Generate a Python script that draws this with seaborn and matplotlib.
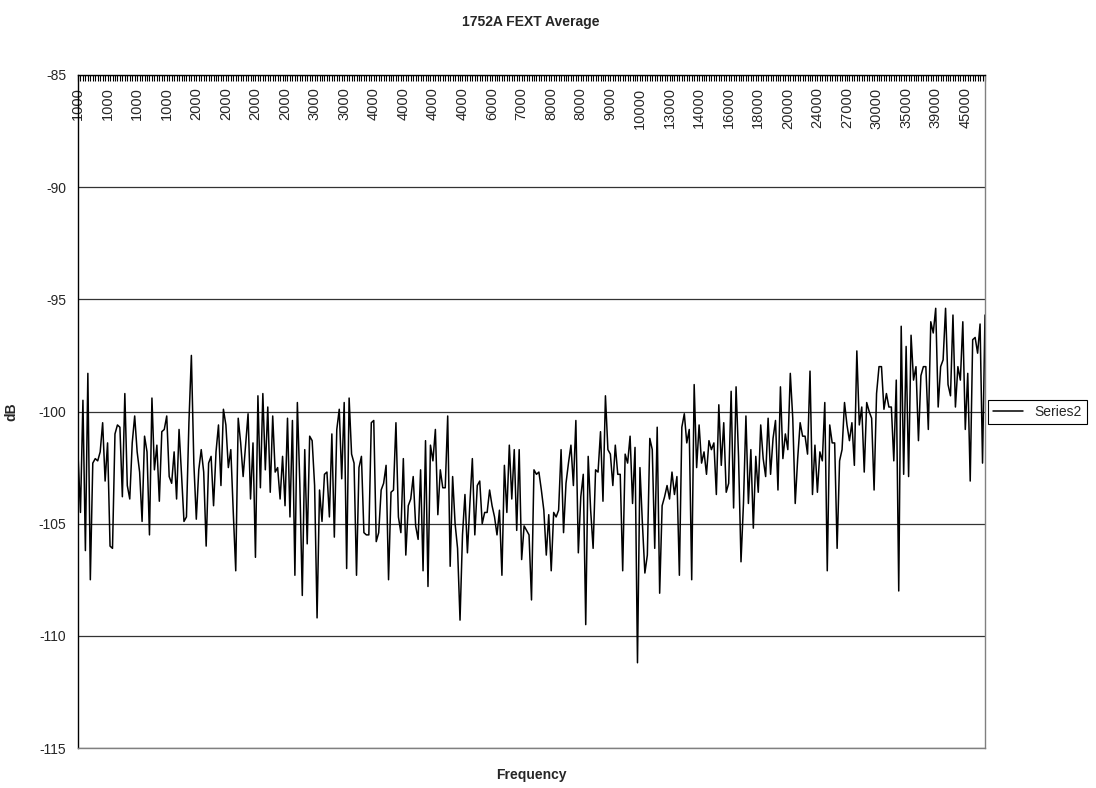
import pandas as pd
import matplotlib.pyplot as plt
import seaborn as sns

# Estilo base
sns.set_style("white")
plt.rcParams['font.family'] = ['Liberation Sans', 'DejaVu Sans']
plt.rcParams['axes.unicode_minus'] = False

# Rótulos de frequência mostrados no eixo (um a cada 12 pontos)
freq_labels = ['1000', '1000', '1000', '1000', '2000', '2000', '2000', '2000',
               '3000', '3000', '4000', '4000', '4000', '4000', '6000', '7000',
               '8000', '8000', '9000', '10000', '13000', '14000', '16000', '18000',
               '20000', '24000', '27000', '30000', '35000', '39000', '45000']
passo_rotulo = 12

# Valores médios de FEXT (dB)
db_medio = [
    -101.9, -104.5, -99.5, -106.2, -98.3, -107.5, -102.3, -102.1, -102.2, -101.8,
    -100.5, -103.1, -101.4, -106.0, -106.1, -101.0, -100.6, -100.7, -103.8, -99.2,
    -103.3, -103.9, -101.4, -100.2, -101.8, -102.7, -104.9, -101.1, -101.8, -105.5,
    -99.4, -102.6, -101.5,
    -104.0, -100.9, -100.8, -100.2, -102.9, -103.2, -101.8, -103.9, -100.8, -102.8,
    -104.9, -104.7, -100.5, -97.5, -102.3, -104.8, -102.6, -101.7, -102.7, -106.0,
    -102.3, -102.0, -104.2, -101.8, -100.6, -103.3, -99.9, -100.6, -102.5, -101.7,
    -104.5, -107.1, -100.3, -101.4, -102.9, -101.5, -100.1, -103.9, -101.4, -106.5,
    -99.3, -103.4, -99.2, -102.6, -99.8, -103.6, -100.2, -102.7, -102.5, -103.9,
    -102.0, -104.2, -100.3, -104.7, -100.4, -107.3, -99.6, -103.2, -108.2, -101.7,
    -105.9, -101.1, -101.3, -103.3, -109.2, -103.5, -104.9, -102.8, -102.7, -104.7,
    -101.0, -105.6, -100.8, -99.9,
    -103.0, -99.6, -107.0, -99.4, -101.9, -102.3, -107.3, -102.5, -102.0, -105.4,
    -105.5, -105.5, -100.5, -100.4, -105.8, -105.4, -103.5, -103.2, -102.4, -107.5,
    -103.6, -103.5, -100.5, -104.7, -105.4, -102.1, -106.4, -104.2, -103.9, -102.9,
    -105.1, -105.7, -102.6, -107.1, -101.3, -107.8,
    -101.5, -102.2, -100.8, -104.6, -102.6, -103.4, -103.4, -100.2, -106.9, -102.9,
    -105.0, -106.1, -109.3, -105.5, -103.7, -106.3, -104.1, -102.1, -105.5, -103.3,
    -103.1, -105.0, -104.5, -104.5, -103.5, -104.2, -104.7, -105.5, -104.4, -107.3,
    -102.4, -104.5, -101.5, -103.9, -101.7, -105.3, -101.7,
    -106.6, -105.1, -105.3, -105.5, -108.4, -102.6, -102.8, -102.7, -103.5, -104.4,
    -106.4, -104.6, -107.1, -104.5, -104.7, -104.4, -101.7, -105.4, -103.2, -102.3,
    -101.5, -103.3, -100.4, -106.3, -103.8, -102.8, -109.5, -102.0, -104.4, -106.1,
    -102.6, -102.7, -100.9, -104.0, -99.3, -101.7, -101.9, -103.3, -101.5,
    -102.8, -102.8, -107.1, -101.9, -102.3, -101.1, -104.1, -101.6, -111.2, -102.5,
    -105.0, -107.2, -106.4, -101.2, -101.7, -106.1, -100.7, -108.1, -104.2, -103.8,
    -103.3, -103.9, -102.7, -103.7, -102.9, -107.3, -100.7, -100.1, -101.4, -100.8,
    -107.5, -98.8, -102.5, -100.6, -102.3, -101.8, -102.8, -101.3, -101.7,
    -101.4, -103.7, -99.7, -102.4, -100.5, -103.6, -103.2, -99.1, -104.3, -98.9,
    -102.0, -106.7, -104.1, -100.2, -104.1, -101.7, -105.2, -102.0, -103.6, -100.6,
    -102.1, -102.9, -100.3, -102.8, -101.2, -100.4, -103.5, -98.9, -102.1, -101.0,
    -101.7, -98.3, -100.3, -104.1, -102.1,
    -100.5, -101.1, -101.1, -101.9, -98.2, -103.7, -101.5, -103.6, -101.8, -102.2,
    -99.6, -107.1, -100.6, -101.4, -101.4, -106.1, -102.2, -101.7, -99.6, -100.6,
    -101.3, -100.5, -102.4, -97.3, -100.6, -99.8, -102.7, -99.6, -100.0, -100.3,
    -103.5, -99.2, -98.0, -98.0, -99.9, -99.2, -99.8, -99.8, -102.2, -98.6,
    -108.0, -96.2, -102.8, -97.1, -102.9, -96.6, -98.6, -98.0, -101.3, -98.4,
    -98.0, -98.0, -100.8, -96.0, -96.5, -95.4, -99.8, -98.0, -97.7, -95.4,
    -98.8, -99.3, -95.7, -99.8, -98.0, -98.6, -96.0, -100.8, -98.3, -103.1,
    -96.8, -96.7, -97.4, -96.1, -102.3, -95.7,
]

df = pd.DataFrame({'ponto': range(len(db_medio)), 'dB': db_medio})

fig, ax = plt.subplots(figsize=(10.96, 7.88), dpi=100)
fig.subplots_adjust(left=78/1096, right=985/1096, top=1-75/788, bottom=1-748/788)

sns.lineplot(data=df, x='ponto', y='dB', color='black', linewidth=1.1,
             ax=ax, label='Series2')

ax.set_xlim(0, len(db_medio) - 1)
ax.set_ylim(-115, -85)
ax.set_yticks(range(-115, -84, 5))
ax.yaxis.grid(True, color='#333333', linewidth=0.9)
ax.xaxis.grid(False)

# Eixo de categorias no topo, rótulos para dentro
ax.xaxis.tick_top()
ax.set_xticks([i * passo_rotulo for i in range(len(freq_labels))])
ax.set_xticklabels(freq_labels, rotation=90)
ax.set_xticks(range(len(db_medio)), minor=True)
ax.tick_params(axis='x', which='both', direction='in', length=4, width=0.8,
               color='black', top=True, bottom=False, labeltop=True,
               labelbottom=False, pad=-9, labelsize=10.5)
for lab in ax.xaxis.get_majorticklabels():
    lab.set_va('top')
ax.tick_params(axis='y', direction='out', length=5, width=0.8, labelsize=10)

for lado in ['left', 'top']:
    ax.spines[lado].set_color('black')
    ax.spines[lado].set_linewidth(1.0)
for lado in ['right', 'bottom']:
    ax.spines[lado].set_color('#808080')
    ax.spines[lado].set_linewidth(1.0)

ax.set_xlabel('Frequency', fontweight='bold', fontsize=10)
ax.xaxis.set_label_coords(0.5, -20/673)
ax.set_ylabel('dB', fontweight='bold', fontsize=10)
ax.yaxis.set_label_coords(-60/907, 0.5)
fig.suptitle('1752A FEXT Average', x=531/1096, y=1-22/788, va='center',
             fontweight='bold', fontsize=10)

leg = ax.legend(loc='center left', bbox_to_anchor=(988/1096, 1-412/788),
                bbox_transform=fig.transFigure, frameon=True, fancybox=False,
                edgecolor='black', framealpha=1, borderpad=0.35,
                handlelength=2.2, borderaxespad=0, fontsize=10)
leg.get_frame().set_linewidth(0.8)

plt.savefig('out.png', dpi=100)
